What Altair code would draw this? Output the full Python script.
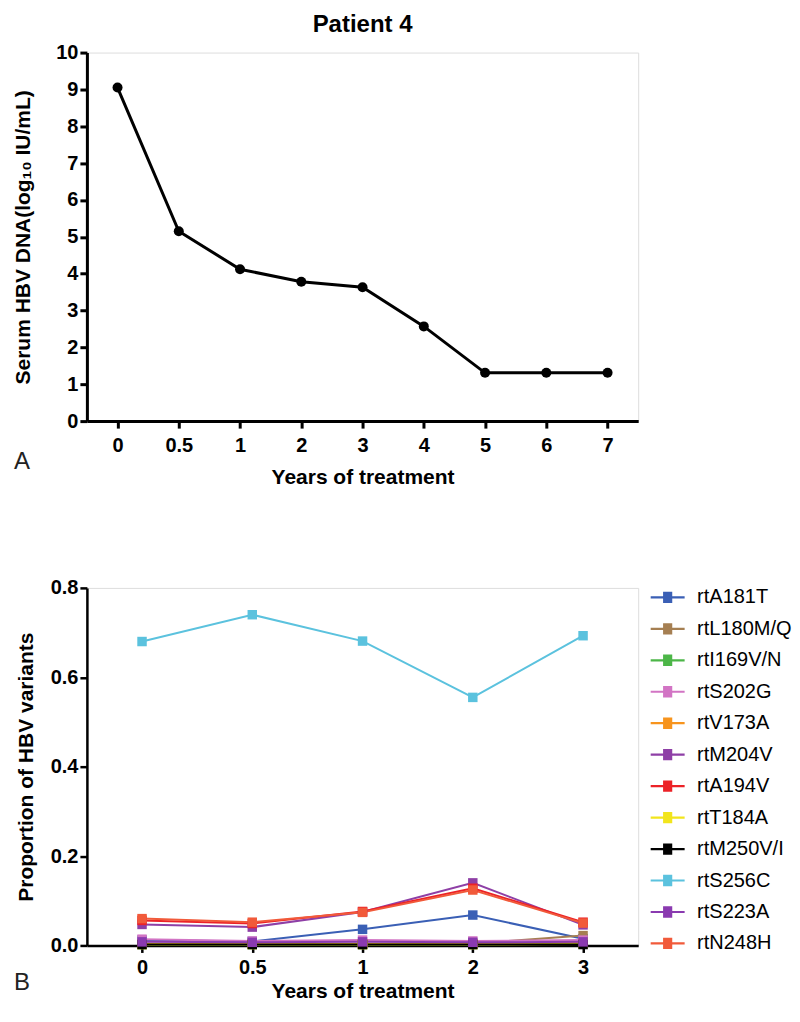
import altair as alt
import pandas as pd

# ---------------- data ----------------
chart_title = "Patient 4"
panel_labels = ["A", "B"]

years_a = ["0", "0.5", "1", "2", "3", "4", "5", "6", "7"]
hbv_dna = [9.05, 5.15, 4.12, 3.78, 3.63, 2.57, 1.31, 1.31, 1.31]

years_b = ["0", "0.5", "1", "2", "3"]
variants = ["rtA181T", "rtL180M/Q", "rtI169V/N", "rtS202G", "rtV173A", "rtM204V",
            "rtA194V", "rtT184A", "rtM250V/I", "rtS256C", "rtS223A", "rtN248H"]
variant_colors = ["#3a5fb5", "#a57f52", "#4cb648", "#d274c4", "#f7941d", "#8e3fa6",
                  "#ec2227", "#f2e51c", "#000000", "#5bc2de", "#8a3ab0", "#f15a3a"]

rtA181T = [0.012, 0.009, 0.036, 0.068, 0.015]
rtL180MQ = [0.004, 0.004, 0.004, 0.004, 0.022]
rtI169VN = [0.002, 0.002, 0.002, 0.002, 0.004]
rtS202G = [0.014, 0.010, 0.012, 0.010, 0.012]
rtV173A = [0.003, 0.003, 0.003, 0.003, 0.006]
rtM204V = [0.047, 0.041, 0.075, 0.140, 0.046]
rtA194V = [0.056, 0.049, 0.076, 0.128, 0.052]
rtT184A = [0.002, 0.002, 0.002, 0.002, 0.003]
rtM250VI = [0.002, 0.002, 0.002, 0.002, 0.002]
rtS256C = [0.680, 0.740, 0.681, 0.555, 0.693]
rtS223A = [0.008, 0.007, 0.008, 0.007, 0.008]
rtN248H = [0.060, 0.052, 0.074, 0.124, 0.050]

series_b = [rtA181T, rtL180MQ, rtI169VN, rtS202G, rtV173A, rtM204V,
            rtA194V, rtT184A, rtM250VI, rtS256C, rtS223A, rtN248H]

# ---------------- tables ----------------
df_a = pd.DataFrame({"year": years_a, "dna": hbv_dna})
rows = []
for name, vals in zip(variants, series_b):
    for y, v in zip(years_b, vals):
        rows.append({"variant": name, "year": y, "value": v})
df_b = pd.DataFrame(rows)

FONT = "Liberation Sans"
W = 552
HA = 369
HB = 358
GAP = 89

def axis_x(title, label_pad, title_pad, dw):
    return alt.Axis(title=title, labelAngle=0, labelFont=FONT, labelFontSize=20,
                    labelFontWeight="bold", labelColor="black", labelPadding=label_pad,
                    titleFont=FONT, titleFontSize=21, titleFontWeight="bold",
                    titleColor="black", titlePadding=title_pad, domainColor="black",
                    domainWidth=dw, tickColor="black", tickWidth=dw, tickSize=7,
                    grid=False)

def axis_y(title, values, fmt, title_pad, dw):
    return alt.Axis(title=title, values=values, format=fmt, labelFont=FONT,
                    labelFontSize=20, labelFontWeight="bold", labelColor="black",
                    labelPadding=2, titleFont=FONT, titleFontSize=21,
                    titleFontWeight="bold", titleColor="black",
                    titlePadding=title_pad, domainColor="black", domainWidth=dw,
                    tickColor="black", tickWidth=dw, tickSize=7, grid=False)

# ---------------- panel A ----------------
xa = alt.X("year:N", sort=years_a, scale=alt.Scale(type="point", padding=0.5),
           axis=axis_x("Years of treatment", 7, 11, 3))
ya = alt.Y("dna:Q", scale=alt.Scale(domain=[0, 10], nice=False),
           axis=axis_y("Serum HBV DNA(log₁₀ IU/mL)", list(range(0, 11)), "d", 22, 3))

line_a = alt.Chart(df_a).mark_line(color="black", strokeWidth=3).encode(x=xa, y=ya)
pts_a = alt.Chart(df_a).mark_point(filled=True, color="black", size=100,
                                   opacity=1).encode(x=xa, y=ya)
lab_a = alt.Chart(pd.DataFrame({"t": [panel_labels[0]]})).mark_text(
    font=FONT, fontSize=24, color="#222", align="center", baseline="middle"
).encode(text="t:N", x=alt.value(-65), y=alt.value(HA + 41))

panel_a = alt.layer(line_a, pts_a, lab_a).properties(
    width=W, height=HA,
    title=alt.TitleParams(chart_title, font=FONT, fontSize=24, fontWeight="bold",
                          color="black", anchor="middle", offset=6))

# ---------------- panel B ----------------
sym_path = ("M-1,0H1"
            "M-0.27,-0.27H0.27M-0.27,-0.18H0.27M-0.27,-0.09H0.27"
            "M-0.27,0.09H0.27M-0.27,0.18H0.27M-0.27,0.27H0.27")

xb = alt.X("year:N", sort=years_b, scale=alt.Scale(type="point", padding=0.5),
           axis=axis_x("Years of treatment", 5, 3, 2.5))
yb = alt.Y("value:Q", scale=alt.Scale(domain=[0, 0.8], nice=False),
           axis=axis_y("Proportion of HBV variants", [0, 0.2, 0.4, 0.6, 0.8], ".1f", 14, 2.5))
cb = alt.Color("variant:N", sort=variants,
               scale=alt.Scale(domain=variants, range=variant_colors),
               legend=alt.Legend(title=None, orient="none", legendX=563, legendY=527,
                                 symbolType=sym_path, symbolSize=1156,
                                 symbolStrokeWidth=2.2, labelFont=FONT,
                                 labelFontSize=20, labelColor="black",
                                 labelOffset=11, rowPadding=2.5, padding=0))

line_b = alt.Chart(df_b).mark_line(strokeWidth=2).encode(
    x=xb, y=yb, color=cb, detail="variant:N")
pts_b = alt.Chart(df_b).mark_point(shape="square", filled=True, size=90,
                                   opacity=1).encode(
    x=xb, y=yb, color=alt.Color("variant:N", sort=variants,
                                scale=alt.Scale(domain=variants, range=variant_colors),
                                legend=None))
lab_b = alt.Chart(pd.DataFrame({"t": [panel_labels[1]]})).mark_text(
    font=FONT, fontSize=24, color="#222", align="center", baseline="middle"
).encode(text="t:N", x=alt.value(-65), y=alt.value(HB + 38))

panel_b = alt.layer(line_b, pts_b, lab_b).properties(width=W, height=HB)

chart = alt.vconcat(panel_a, panel_b, spacing=GAP).properties(
    padding={"left": 4, "top": 3, "right": 0, "bottom": 0}
).configure_view(stroke=None).configure(background="white")

chart.save("out.html", embed_options={"renderer": "svg", "actions": False})
